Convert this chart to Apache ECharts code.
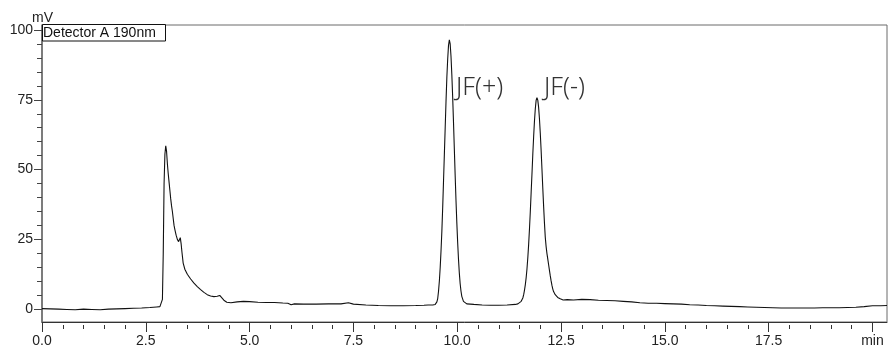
<!DOCTYPE html>
<html>
<head>
<meta charset="utf-8">
<script src="https://cdn.jsdelivr.net/npm/echarts@6/dist/echarts.min.js"></script>
<style>
html,body{margin:0;padding:0;background:#fff;}
#chart{width:890px;height:348px;}
</style>
</head>
<body>
<div id="chart"></div>
<script>
// Retention time (min)
var times = [
0.00,0.20,0.40,0.60,0.80,1.00,1.20,1.40,1.60,1.80,2.00,2.20,2.40,2.60,2.76,2.84,2.88,2.90,2.92,2.94,
2.96,2.98,3.00,3.02,3.04,3.06,3.08,3.10,3.12,3.14,3.16,3.18,3.20,3.23,3.26,3.29,3.31,3.33,3.35,3.37,
3.40,3.44,3.50,3.58,3.66,3.74,3.82,3.90,3.98,4.06,4.14,4.22,4.28,4.32,4.38,4.45,4.55,4.70,4.85,5.00,
5.20,5.40,5.60,5.80,5.92,6.00,6.08,6.30,6.60,6.90,7.20,7.38,7.50,7.80,8.10,8.40,8.70,9.00,9.20,9.30,
9.41,9.47,9.51,9.53,9.55,9.57,9.59,9.61,9.63,9.65,9.67,9.69,9.71,9.73,9.75,9.77,9.79,9.81,9.83,9.85,
9.87,9.89,9.91,9.93,9.95,9.97,9.99,10.01,10.03,10.05,10.07,10.09,10.11,10.15,10.19,10.23,10.40,10.60,10.80,11.00,
11.20,11.40,11.46,11.50,11.54,11.58,11.60,11.62,11.64,11.66,11.68,11.70,11.72,11.74,11.76,11.78,11.80,11.82,11.84,11.86,
11.88,11.90,11.92,11.94,11.96,11.98,12.00,12.02,12.04,12.06,12.08,12.10,12.12,12.14,12.16,12.18,12.20,12.22,12.24,12.26,
12.28,12.30,12.32,12.36,12.42,12.48,12.55,12.65,12.80,13.00,13.20,13.40,13.60,13.80,14.00,14.20,14.40,14.60,14.80,15.00,
15.20,15.40,15.60,15.80,16.00,16.20,16.40,16.60,16.80,17.00,17.20,17.40,17.60,17.80,18.00,18.20,18.40,18.60,18.80,19.00,
19.20,19.40,19.60,19.80,20.00,20.20,20.35
];
// Detector A 190nm signal (mV)
var signal = [
0.2,0.1,0.0,-0.1,-0.2,0.0,-0.1,-0.2,0.0,0.1,0.2,0.3,0.4,0.6,0.8,0.9,1.5,3.5,20.0,45.0,
55.5,58.5,56.5,52.0,48.5,45.5,42.5,39.5,37.0,35.0,32.5,30.0,28.5,26.5,25.0,24.2,24.6,25.6,23.5,20.5,
16.5,14.3,12.5,10.8,9.3,8.1,7.0,6.0,5.2,4.7,4.5,4.6,4.9,4.3,3.2,2.5,2.3,2.6,2.8,2.7,
2.5,2.4,2.4,2.2,2.1,1.6,1.9,1.8,1.8,1.9,1.9,2.3,1.8,1.5,1.3,1.2,1.2,1.3,1.4,1.5,
1.5,1.7,2.6,3.8,6.5,10.2,15.0,21.0,28.0,36.5,46.0,55.5,65.0,74.5,83.0,89.5,94.5,96.5,95.0,90.5,
84.0,76.0,67.0,57.5,48.0,39.0,31.0,24.0,18.0,13.0,9.2,6.5,4.6,2.8,2.1,1.9,1.7,1.5,1.4,1.4,
1.5,1.7,1.9,2.2,2.8,4.0,5.2,6.8,8.8,11.3,14.5,18.5,23.2,28.8,35.0,41.8,48.5,55.5,61.8,67.4,
71.8,74.8,75.8,74.9,72.3,68.2,63.0,57.0,50.3,43.5,37.0,31.0,25.8,22.5,20.0,18.0,16.0,14.0,12.0,10.2,
8.6,7.3,6.3,5.2,4.2,3.7,3.3,3.4,3.3,3.5,3.4,3.2,3.1,3.0,2.8,2.6,2.3,2.1,2.1,2.0,
1.9,1.8,1.6,1.5,1.3,1.2,1.1,1.0,0.9,0.8,0.7,0.6,0.5,0.4,0.4,0.4,0.4,0.4,0.5,0.5,
0.5,0.6,0.7,0.9,1.2,1.2,1.3
];
// Axis ticks and labels
var xMajorTicks = [0, 2.5, 5, 7.5, 10, 12.5, 15, 17.5, 20];
var xTickLabels = ['0.0','2.5','5.0','7.5','10.0','12.5','15.0','17.5','min'];
var xMinorTicks = [0.5,1,1.5,2,3,3.5,4,4.5,5.5,6,6.5,7,8,8.5,9,9.5,10.5,11,11.5,12,13,13.5,14,14.5,15.5,16,16.5,17,18,18.5,19,19.5,20.5];
var yMajorTicks = [0, 25, 50, 75, 100];
var yTickLabels = ['0','25','50','75','100'];
var yMinorTicks = [5,10,15,20,30,35,40,45,55,60,65,70,80,85,90,95];
var peakLabels = ['JF(+)', 'JF(-)'];
var legendText = 'Detector A 190nm';
var yUnit = 'mV';

var X_MIN = 0, X_MAX = 20.35, Y_MIN = -4.6, Y_MAX = 101.8;
var pts = times.map(function (t, i) { return [t, signal[i]]; });
var FONT = '"Liberation Sans", Arial, sans-serif';

var chart = echarts.init(document.getElementById('chart'), null, {renderer: 'canvas'});
chart.setOption({
  animation: false,
  backgroundColor: '#fff',
  grid: {left: 42, right: 3, top: 25, bottom: 25, show: true, borderColor: '#6a6a6a', borderWidth: 1},
  xAxis: [{
    type: 'value', min: X_MIN, max: X_MAX,
    axisLine: {onZero: false, lineStyle: {color: '#333', width: 1}},
    axisTick: {show: true, length: 10, customValues: xMajorTicks, lineStyle: {color: '#333'}},
    axisLabel: {customValues: xMajorTicks, margin: 12, fontSize: 14, fontFamily: FONT, color: '#222',
      formatter: function (v) { var i = xMajorTicks.indexOf(v); return i >= 0 ? xTickLabels[i] : ''; }},
    splitLine: {show: false}
  }, {
    type: 'value', min: X_MIN, max: X_MAX, position: 'bottom', offset: 3,
    axisLine: {show: false, onZero: false},
    axisTick: {show: true, length: 4, customValues: xMinorTicks, lineStyle: {color: '#333'}},
    axisLabel: {show: false},
    splitLine: {show: false}
  }],
  yAxis: [{
    type: 'value', min: Y_MIN, max: Y_MAX, position: 'left',
    axisLine: {show: true, onZero: false, lineStyle: {color: '#6a6a6a', width: 1.5}},
    axisTick: {show: true, length: 8, customValues: yMajorTicks, lineStyle: {color: '#444'}},
    axisLabel: {customValues: yMajorTicks, margin: 9, fontSize: 14, fontFamily: FONT, color: '#222',
      formatter: function (v) { var i = yMajorTicks.indexOf(v); return i >= 0 ? yTickLabels[i] : ''; }},
    splitLine: {show: false}
  }, {
    type: 'value', min: Y_MIN, max: Y_MAX, position: 'left',
    axisLine: {show: false, onZero: false},
    axisTick: {show: true, length: 5, customValues: yMinorTicks, lineStyle: {color: '#444'}},
    axisLabel: {show: false},
    splitLine: {show: false}
  }],
  series: [{
    type: 'line', data: pts, xAxisIndex: 0, yAxisIndex: 0,
    showSymbol: false, symbol: 'none', smooth: false,
    lineStyle: {color: '#111', width: 1.1},
    z: 3
  }],
  graphic: [
    {type: 'text', left: 32, top: 11, style: {text: yUnit, font: '14px ' + FONT, fill: '#222'}},
    {type: 'rect', shape: {x: 42.5, y: 24.5, width: 123, height: 16.5}, style: {fill: '#fff', stroke: '#111', lineWidth: 1}, z: 10},
    {type: 'text', left: 43, top: 26, style: {text: legendText, font: '14px ' + FONT, fill: '#111'}, z: 11},
    {type: 'text', left: 456, top: 75, style: {text: peakLabels[0], font: '300 25px "Noto Sans", "Open Sans", sans-serif', fill: '#333'}, z: 11},
    {type: 'text', left: 544, top: 75, style: {text: peakLabels[1], font: '300 25px "Noto Sans", "Open Sans", sans-serif', fill: '#333'}, z: 11}
  ]
});
</script>
</body>
</html>
